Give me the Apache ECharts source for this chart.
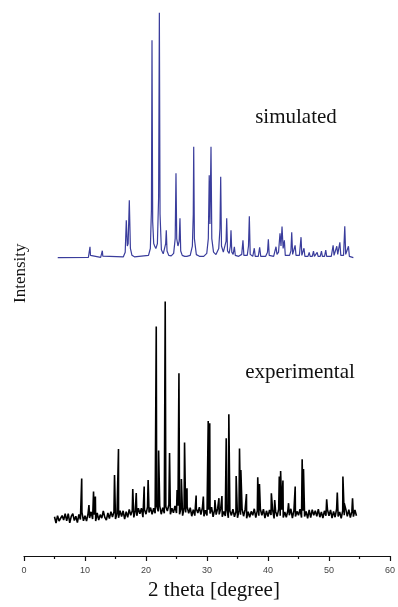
<!DOCTYPE html>
<html>
<head>
<meta charset="utf-8">
<script src="https://cdn.jsdelivr.net/npm/echarts@6/dist/echarts.min.js"></script>
<style>
html,body{margin:0;padding:0;background:#fff;}
#chart{width:398px;height:607px;}
</style>
</head>
<body>
<div id="chart"></div>
<script>
// x axis ticks
var xTicks = [0, 10, 20, 30, 40, 50, 60];

// Simulated pattern: [2theta, relative intensity]
var simulated = [
[5.5,0.3],[10.5,0.4],[10.68,1.2],[10.76,4.7],[10.84,1.2],[11.0,0.4],
[12.5,0.4],[12.7,0.9],[12.77,3.1],[12.85,0.9],[13.0,0.4],
[16.2,0.6],[16.5,2.5],[16.68,15.5],[16.85,5],[16.98,6],[17.17,23.6],[17.35,4],[17.6,1.2],[18.0,0.6],
[20.3,1.2],[20.6,4],[20.78,20],[20.87,88.8],[20.98,15],[21.15,6],[21.3,5],[21.5,4],[21.75,6],[21.95,25],[22.07,100],[22.18,18],[22.4,3.5],[22.7,1.8],[22.95,2.5],[23.1,6],[23.2,11.4],[23.32,3],[23.6,1.2],[24.0,1],[24.4,2],[24.65,8],[24.78,34.6],[24.9,8],[25.1,5],[25.3,7],[25.43,16.3],[25.55,3],[25.8,1.2],[26.2,0.8],[26.4,1.5],[26.55,0.8],[27.1,1.2],[27.45,5],[27.6,18],[27.67,45.4],[27.78,8],[28.1,1.5],[28.6,0.8],[29.3,0.8],[29.8,2],[30.05,8],[30.2,33.8],[30.32,14],[30.49,45.4],[30.62,8],[30.9,2.5],[31.3,1.5],[31.75,4],[31.95,12],[32.07,33.2],[32.2,5],[32.5,2.5],[32.8,3],[32.95,7],[33.05,16.3],[33.18,3],[33.45,2],[33.65,5],[33.75,11.4],[33.88,2.5],[34.1,1.6],[34.3,4.7],[34.45,1.2],[35.0,0.8],[35.5,1.6],[35.7,7.3],[35.85,1.2],[36.4,1.2],[36.6,5],[36.74,17.1],[36.88,1.6],[37.3,0.8],[37.55,4.1],[37.7,0.8],[38.2,0.8],[38.42,4.5],[38.6,0.8],[39.4,0.8],[39.7,2.5],[39.84,7.7],[39.98,1.2],[40.7,0.8],[40.95,1.5],[41.09,4.7],[41.25,1.6],[41.5,2.5],[41.74,10.2],[41.9,5],[42.07,12.9],[42.25,4],[42.45,7.3],[42.6,1.2],[43.3,1.2],[43.52,3],[43.65,10.6],[43.8,1.6],[44.05,1.5],[44.2,5.3],[44.35,1.2],[44.9,1.2],[45.17,8.6],[45.3,1.2],[45.5,1],[45.65,4.1],[45.8,0.8],[46.3,0.8],[46.5,2.4],[46.65,0.8],[47.0,0.8],[47.2,2.9],[47.35,0.8],[47.65,0.8],[47.8,2.4],[47.95,0.8],[48.3,0.8],[48.5,2.9],[48.65,0.8],[49.0,0.8],[49.2,3.3],[49.35,0.8],[50.1,0.8],[50.4,5.3],[50.55,1.2],[50.85,1.2],[51.0,4.9],[51.15,1.6],[51.35,1.6],[51.5,6.5],[51.65,1.2],[52.1,1.2],[52.3,13],[52.45,1.6],[52.75,1.2],[52.9,4.9],[53.05,0.8],[53.7,0.3]
];

// Experimental scan: background counts on a fixed 2theta step
var expStart = 5;
var expStep = 0.25;
var expBackground = [
196,165,202,175, 166,202,180,212, 176,212,166,198, 212,177,199,167,
208,183,218,176, 201,175,212,190, 221,185,207,175, 215,180,207,189,
225,193,179,215, 187,222,195,220, 185,213,191,227, 197,226,184,222,
193,233,204,226, 193,226,201,239, 211,239,194,233, 209,246,217,242,
208,239,214,250, 223,251,209,242, 214,246,225,256, 209,239,216,251,
215,251,209,240, 202,240,218,246, 213,242,199,232, 202,236,215,244,
207,241,199,229, 202,231,212,244, 196,232,207,238, 208,238,196,223,
200,233,191,226, 203,234,196,222, 191,227,206,235, 199,233,189,221,
194,223,204,236, 192,227,201,234, 204,234,190,226, 197,230,205,232,
188,223,198,234, 201,232,192,220, 194,226,204,236, 190,227,197,223,
204,234,192,226, 197,223,188,230, 192,232,204,226, 198,234,194,220,
190,226,201,232, 201,230,190,223, 194,236,198,220, 188,227,204,234,
198,232,192,223, 197,230,201
];

// Experimental reflections: [2theta, counts]
var expPeaks = [
[9.46,388],[10.65,255],[11.4,322],[11.7,297],[14.84,405],[15.49,535],
[17.83,335],[18.4,315],[19.7,347],[20.35,380],[21.68,1147],[22.07,527],
[23.15,1272],[23.86,515],[25.1,330],[25.4,914],[25.8,385],[26.32,568],
[26.72,339],[28.22,302],[29.4,297],[30.2,675],[30.45,664],[31.3,280],
[31.96,289],[32.45,300],[33.15,589],[33.58,709],[34.78,400],[35.33,537],
[35.55,430],[36.47,310],[38.32,394],[38.6,360],[40.55,314],[41.1,280],
[41.85,397],[42.07,425],[42.45,377],[43.37,264],[44.46,347],[45.6,484],
[45.82,435],[49.62,284],[51.36,317],[52.28,397],[52.5,264],[53.86,289]
];

var experimental = [];
for (var i = 0; i < expBackground.length; i++) {
  experimental.push([expStart + i * expStep, expBackground[i]]);
}
experimental = experimental.concat(expPeaks).sort(function(a, b){ return a[0] - b[0]; });

var chart = echarts.init(document.getElementById('chart'), null, {renderer: 'canvas'});
chart.setOption({
  animation: false,
  backgroundColor: '#ffffff',
  grid: [
    {left: 24, right: 6, top: 12.7, bottom: 348.7},
    {left: 24, right: 6, top: 300, bottom: 51}
  ],
  xAxis: [
    {gridIndex: 0, type: 'value', min: xTicks[0], max: xTicks[xTicks.length-1], interval: 10, show: false},
    {gridIndex: 1, type: 'value', min: xTicks[0], max: xTicks[xTicks.length-1], interval: 10,
     axisLine: {show: true, lineStyle: {color: '#111', width: 1.2}},
     axisTick: {show: true, inside: false, length: 5, lineStyle: {color: '#111', width: 1.2}},
     minorTick: {show: true, splitNumber: 2, length: 3, lineStyle: {color: '#111', width: 1.2}},
     axisLabel: {show: true, fontFamily: 'Liberation Sans', fontSize: 9, color: '#444', margin: 10},
     splitLine: {show: false}, minorSplitLine: {show: false}}
  ],
  yAxis: [
    {gridIndex: 0, type: 'value', min: 0, max: 100, show: false},
    {gridIndex: 1, type: 'value', min: 0, max: 1280, show: false}
  ],
  series: [
    {type: 'line', xAxisIndex: 0, yAxisIndex: 0, data: simulated, showSymbol: false, symbol: 'none',
     sampling: null, lineStyle: {color: '#3a3d9c', width: 1.2}, silent: true},
    {type: 'line', xAxisIndex: 1, yAxisIndex: 1, data: experimental, showSymbol: false, symbol: 'none',
     sampling: null, lineStyle: {color: '#000', width: 1.6}, silent: true}
  ],
  graphic: [
    {type: 'text', x: 296, y: 117, style: {text: 'simulated', font: '21px "Liberation Serif"', fill: '#111', textAlign: 'center', textVerticalAlign: 'middle'}},
    {type: 'text', x: 300, y: 372, style: {text: 'experimental', font: '21px "Liberation Serif"', fill: '#111', textAlign: 'center', textVerticalAlign: 'middle'}},
    {type: 'text', x: 214, y: 590, style: {text: '2 theta [degree]', font: '21px "Liberation Serif"', fill: '#111', textAlign: 'center', textVerticalAlign: 'middle'}},
    {type: 'text', x: 12, y: 303, rotation: Math.PI / 2, style: {text: 'Intensity', font: '17px "Liberation Serif"', fill: '#111'}}
  ]
});
</script>
</body>
</html>
